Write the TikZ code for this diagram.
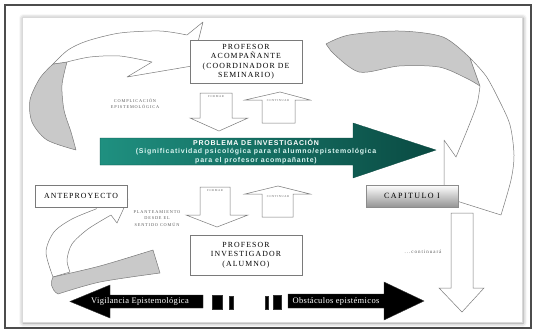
\documentclass[tikz,border=0pt]{standalone}
\usepackage{fontspec}
\setmainfont{Liberation Serif}
\newfontfamily\boxfont[LetterSpace=14]{Liberation Serif}
\newfontfamily\capfont[LetterSpace=18]{Liberation Serif}
\newfontfamily\notefont[LetterSpace=20]{Liberation Serif}
\newfontfamily\problemfont[LetterSpace=11]{Liberation Sans}
\newfontfamily\barfont[LetterSpace=4]{Liberation Serif}
\usetikzlibrary{shadows.blur}

\definecolor{tealA}{HTML}{1F9080}
\definecolor{tealB}{HTML}{0A4A42}
\definecolor{ribbongray}{HTML}{C9C9C9}
\definecolor{edgegray}{HTML}{7A7A7A}
\definecolor{subtext}{HTML}{D8F4F0}

\tikzset{
  ribbon/.style={draw=edgegray, line width=0.5pt, fill=white, line join=round},
  ribbonback/.style={ribbon, fill=ribbongray},
  blockarrow/.style={draw=edgegray, line width=0.5pt, fill=white, line join=miter},
  labelbox/.style={draw=edgegray, line width=0.5pt, fill=white, inner sep=0pt,
    align=center, font=\boxfont\fontsize{7.8}{9.5}\selectfont},
  tag/.style={inner sep=0pt, font=\notefont\fontsize{3}{4}\selectfont, text=black!60},
  note/.style={inner sep=0pt, align=center, font=\notefont\fontsize{4.3}{6.5}\selectfont, text=black!65},
  bararrow/.style={fill=black, draw=black!80, line width=0.4pt},
  bartext/.style={inner sep=0pt, text=white, font=\barfont\fontsize{8.5}{10}\selectfont},
}

\begin{document}
\begin{tikzpicture}[x=1pt, y=-1pt]
\useasboundingbox (0,0) rectangle (536,333);

% outer frame and raised panel
\draw[black!70, line width=1.2pt] (5,5) rectangle (531,328);
\path[fill=white, draw=black!15, line width=0.4pt,
  blur shadow={shadow xshift=1pt, shadow yshift=-1pt, shadow blur radius=4pt, shadow opacity=45}]
  (22,17) rectangle (522,322);

% ---- upper-left ribbon arrow (complicacion epistemologica)
\path[ribbonback] plot[smooth] coordinates {(53,64) (40,78) (30,100) (32,122) (47,140) (76,150)}
  -- plot[smooth] coordinates {(76,150) (71,132) (64,110) (62,85) (67,62)} -- cycle;
\path[ribbon] plot[smooth] coordinates {(53,64) (68,50) (87,41) (120,33) (160,31) (187,35)}
  -- (203,22) -- (192,66) -- (127,77) -- (152,62)
  -- plot[smooth] coordinates {(152,62) (120,56) (90,57) (67,62)} -- cycle;

% ---- upper-right ribbon arrow towards the chapter
\path[ribbonback] plot[smooth] coordinates {(326,44) (349,35) (399,31) (443,37) (470,58)}
  -- (480,86)
  -- plot[smooth] coordinates {(480,86) (466,78) (439,67) (399,66) (359,72) (331,51)} -- cycle;
\path[ribbon] plot[smooth] coordinates {(470,58) (486,76) (499,100) (510,125) (514,155) (511,180) (501,215)}
  -- (444,197) -- (444,140) -- (456,157)
  -- plot[smooth] coordinates {(456,157) (468,128) (477,104) (480,86)} -- cycle;

% ---- lower-left ribbon arrow (planteamiento)
\path[ribbon] plot[smooth] coordinates {(53,277) (46,252) (54,232) (72,219) (96,209)}
  -- (100,200) -- (128,199) -- (117,223) -- (111,215)
  -- plot[smooth] coordinates {(111,215) (88,229) (72,244) (67,260) (70,272)} -- cycle;
\path[ribbonback] plot[smooth] coordinates {(53,277) (100,266) (153,250)}
  -- (160,273)
  -- plot[smooth] coordinates {(160,273) (100,282) (58,294)}
  .. controls (51,290) and (50,282) .. (53,277) -- cycle;

% ---- boxes
\node[labelbox, minimum width=112pt, minimum height=43pt] (acomp) at (246,61.5)
  {PROFESOR\\ACOMPAÑANTE\\(COORDINADOR DE\\SEMINARIO)};
\node[labelbox, minimum width=112pt, minimum height=40pt] (investigador) at (246,255)
  {PROFESOR\\INVESTIGADOR\\(ALUMNO)};
\node[labelbox, minimum width=92pt, minimum height=22pt] (anteproyecto) at (81,196)
  {ANTEPROYECTO};
\node[draw=black!45, line width=0.4pt, top color=white, bottom color=black!42,
  minimum width=92pt, minimum height=22pt, inner sep=0pt,
  font=\capfont\fontsize{8}{9.5}\selectfont] (capitulo) at (412,196) {CAPITULO I};

% ---- block arrows between the teachers and the problem
\path[blockarrow] (200,93) -- (232,93) -- (232,118) -- (248,118) -- (219,131) -- (190,118) -- (200,118) -- cycle;
\path[blockarrow] (262,123) -- (262,100) -- (245,100) -- (280,92) -- (310,100) -- (295,100) -- (295,123) -- cycle;
\path[blockarrow] (200,187) -- (230,187) -- (230,215) -- (248,215) -- (217,227) -- (186,215) -- (200,215) -- cycle;
\path[blockarrow] (262,217) -- (262,194) -- (245,194) -- (278,186) -- (310,194) -- (293,194) -- (293,217) -- cycle;
\node[tag] (tagA) at (216,96.5) {FORMAR};
\node[tag] (tagB) at (278,101) {CONTINUAR};
\node[tag] (tagC) at (215,190.5) {FORMAR};
\node[tag] (tagD) at (278,196.5) {CONTINUAR};

% ---- continuation arrow
\path[blockarrow] (451,213) -- (473,213) -- (473,288) -- (484,288) -- (462,312) -- (439,288) -- (451,288) -- cycle;
\node[note, font=\notefont\fontsize{5}{6}\selectfont] (continua) at (423,252) {...continuará};

% ---- small notes
\node[note] (complica) at (135,103.5) {COMPLICACIÓN\\EPISTEMOLÓGICA};
\node[note] (plantea) at (157,218.5) {PLANTEAMIENTO\\DESDE EL\\SENTIDO COMÚN};

% ---- research problem arrow
\path[left color=tealA, right color=tealB, draw=tealB, line width=0.3pt]
  (100,138) -- (353,138) -- (353,123) -- (436,150) -- (353,178) -- (353,165) -- (100,165) -- cycle;
\node[inner sep=0pt, align=center, font=\problemfont\bfseries\fontsize{7}{8.6}\selectfont] (problema) at (256,151.5)
  {\textcolor{white}{PROBLEMA DE INVESTIGACIÓN}\\
   \textcolor{subtext}{(Significatividad psicológica para el alumno/epistemológica}\\
   \textcolor{subtext}{para el profesor acompañante)}};

% ---- vigilance / obstacles arrows
\path[bararrow] (70,301.5) -- (110,285) -- (110,295) -- (203,295) -- (203,308) -- (110,308) -- (110,318) -- cycle;
\path[bararrow] (288,294) -- (384,294) -- (384,282) -- (424,301) -- (384,320) -- (384,308) -- (288,308) -- cycle;
\path[bararrow] (212,295) rectangle (222,309);
\path[bararrow] (229,296) rectangle (233,309);
\path[bararrow] (265,296) rectangle (268,309);
\path[bararrow] (273,295) rectangle (281,309);
\node[bartext] (vigilancia) at (140,301.5) {Vigilancia Epistemológica};
\node[bartext] (obstaculos) at (336,301) {Obstáculos epistémicos};
\end{tikzpicture}
\end{document}
